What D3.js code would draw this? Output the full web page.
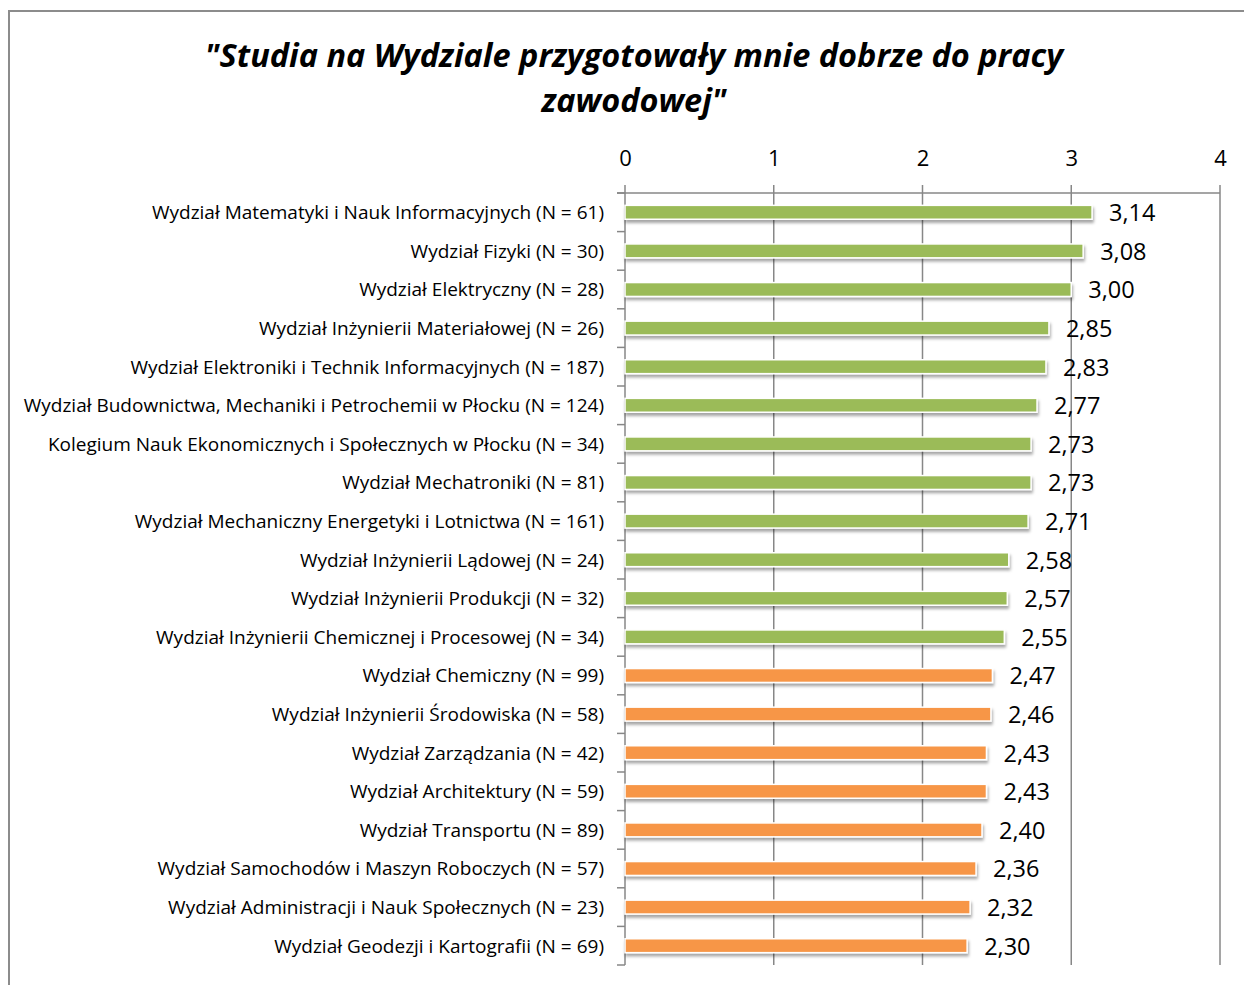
<!DOCTYPE html>
<html>
<head>
<meta charset="utf-8">
<script src="https://cdn.jsdelivr.net/npm/d3@7"></script>
<style>
  body { margin: 0; background: #fff; }
  svg { display: block; }
</style>
</head>
<body>
<svg id="chart" width="1244" height="985"></svg>
<script>
const faculties = [
  'Wydział Matematyki i Nauk Informacyjnych (N = 61)',
  'Wydział Fizyki (N = 30)',
  'Wydział Elektryczny (N = 28)',
  'Wydział Inżynierii Materiałowej (N = 26)',
  'Wydział Elektroniki i Technik Informacyjnych (N = 187)',
  'Wydział Budownictwa, Mechaniki i Petrochemii w Płocku (N = 124)',
  'Kolegium Nauk Ekonomicznych i Społecznych w Płocku (N = 34)',
  'Wydział Mechatroniki (N = 81)',
  'Wydział Mechaniczny Energetyki i Lotnictwa (N = 161)',
  'Wydział Inżynierii Lądowej (N = 24)',
  'Wydział Inżynierii Produkcji (N = 32)',
  'Wydział Inżynierii Chemicznej i Procesowej (N = 34)',
  'Wydział Chemiczny (N = 99)',
  'Wydział Inżynierii Środowiska (N = 58)',
  'Wydział Zarządzania (N = 42)',
  'Wydział Architektury (N = 59)',
  'Wydział Transportu (N = 89)',
  'Wydział Samochodów i Maszyn Roboczych (N = 57)',
  'Wydział Administracji i Nauk Społecznych (N = 23)',
  'Wydział Geodezji i Kartografii (N = 69)'
]
const scores = [3.14, 3.08, 3.00, 2.85, 2.83, 2.77, 2.73, 2.73, 2.71, 2.58, 2.57, 2.55,
  2.47, 2.46, 2.43, 2.43, 2.40, 2.36, 2.32, 2.30]
// green above 2.5, orange below
const groups = ['above', 'above', 'above', 'above', 'above', 'above', 'above', 'above', 'above', 'above', 'above', 'above',
  'below', 'below', 'below', 'below', 'below', 'below', 'below', 'below']
const xTicks = [0, 1, 2, 3, 4]
const titleLines = ['"Studia na Wydziale przygotowały mnie dobrze do pracy', 'zawodowej"']

const svg = d3.select('#chart')
const plotLeft = 625
const plotRight = 1220
const plotTop = 193
const plotBottom = 965
const gridColor = '#878787'

const x = d3.scaleLinear().domain([0, 4]).range([plotLeft, plotRight])
const y = d3.scaleBand().domain(faculties).range([plotTop, plotBottom]).paddingInner(0.64).paddingOuter(0.32)
const color = d3.scaleOrdinal().domain(['above', 'below']).range(['#9bbb59', '#f79646'])

// chart frame (runs off the page right and bottom)
svg.append('rect')
  .attr('x', 9).attr('y', 11).attr('width', 1260).attr('height', 1000)
  .attr('fill', 'none').attr('stroke', '#8c8c8c').attr('stroke-width', 2)

const defs = svg.append('defs')
const shadow = defs.append('filter').attr('id', 'shadow')
  .attr('x', '-5%').attr('y', '-40%').attr('width', '110%').attr('height', '200%')
shadow.append('feDropShadow')
  .attr('dx', 1).attr('dy', 3).attr('stdDeviation', 1.8)
  .attr('flood-color', '#000').attr('flood-opacity', 0.35)

// title
svg.append('g').selectAll('text')
  .data(titleLines)
  .join('text')
  .attr('x', 634)
  .attr('y', (d, i) => 67 + i * 45)
  .attr('text-anchor', 'middle')
  .style('font-family', '"Open Sans", sans-serif')
  .style('font-size', '32.5px')
  .style('font-weight', 'bold')
  .style('font-style', 'italic')
  .text(d => d)

// vertical gridlines + top ticks
svg.append('g').selectAll('line')
  .data(xTicks)
  .join('line')
  .attr('x1', d => x(d)).attr('x2', d => x(d))
  .attr('y1', plotTop - 8).attr('y2', plotBottom)
  .attr('stroke', gridColor).attr('stroke-width', 1.5)

// top axis line
svg.append('line')
  .attr('x1', plotLeft - 8).attr('x2', plotRight)
  .attr('y1', plotTop).attr('y2', plotTop)
  .attr('stroke', gridColor).attr('stroke-width', 1.5)

// category ticks at band boundaries
const bounds = d3.range(faculties.length + 1).map(i => plotTop + i * y.step())
svg.append('g').selectAll('line')
  .data(bounds)
  .join('line')
  .attr('x1', plotLeft - 8).attr('x2', plotLeft)
  .attr('y1', d => d).attr('y2', d => d)
  .attr('stroke', gridColor).attr('stroke-width', 1.5)

// value axis labels
const xAxis = svg.append('g')
  .attr('transform', `translate(0,${plotTop - 31})`)
  .call(d3.axisTop(x).tickValues(xTicks).tickSize(0).tickFormat(d3.format('d')))
xAxis.select('.domain').remove()
xAxis.selectAll('text')
  .style('font-family', '"Open Sans", sans-serif')
  .style('font-size', '22px')
  .attr('fill', '#000')
  .attr('dy', '0.3em')

// category labels
svg.append('g').selectAll('text')
  .data(faculties)
  .join('text')
  .attr('x', 604)
  .attr('y', d => y(d) + y.bandwidth() / 2)
  .attr('dy', '0.36em')
  .attr('text-anchor', 'end')
  .style('font-family', '"Open Sans", sans-serif')
  .style('font-size', '19px')
  .text(d => d)

// bars
svg.append('g').selectAll('rect')
  .data(scores)
  .join('rect')
  .attr('x', x(0))
  .attr('y', (d, i) => y(faculties[i]))
  .attr('width', d => x(d) - x(0))
  .attr('height', y.bandwidth())
  .attr('fill', (d, i) => color(groups[i]))
  .attr('stroke', '#fff')
  .attr('stroke-width', 1.5)
  .attr('filter', 'url(#shadow)')

// value labels
svg.append('g').selectAll('text')
  .data(scores)
  .join('text')
  .attr('x', d => x(d) + 17)
  .attr('y', (d, i) => y(faculties[i]) + y.bandwidth() / 2)
  .attr('dy', '0.38em')
  .style('font-family', '"Open Sans", sans-serif')
  .style('font-size', '23.5px')
  .text(d => d3.format('.2f')(d).replace('.', ','))
</script>
</body>
</html>
